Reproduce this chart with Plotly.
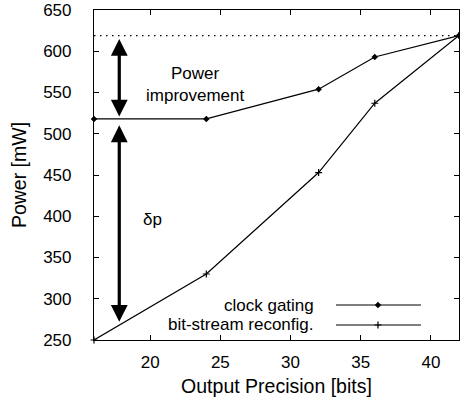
import plotly.graph_objects as go

# Output precision (bits) and measured power (mW)
precision_bits = [16, 24, 32, 36, 42]
clock_gating_mw = [518, 518, 554, 593, 619]
bitstream_reconfig_mw = [250, 330, 453, 537, 619]
series_names = ["clock gating", "bit-stream reconfig."]

# Full-precision power level (dotted reference line)
full_power_mw = 619

# Arrow annotations: x position and (start, end) power values
arrow_x = 17.8
improvement_arrow = (519, 615)
delta_p_arrow = (512, 272)

x_ticks = [20, 25, 30, 35, 40]
y_ticks = [250, 300, 350, 400, 450, 500, 550, 600, 650]

FONT = "Liberation Sans, Arial, Helvetica, sans-serif"

fig = go.Figure()

fig.add_trace(go.Scatter(
    x=[precision_bits[0], precision_bits[-1]], y=[full_power_mw, full_power_mw],
    mode="lines", line=dict(color="black", width=1.2, dash="1.5px,4.5px"),
    showlegend=False, hoverinfo="skip"))

fig.add_trace(go.Scatter(
    x=precision_bits, y=clock_gating_mw, mode="lines+markers",
    name=series_names[0], line=dict(color="black", width=1.2),
    marker=dict(symbol="diamond", size=5, color="black"),
    showlegend=False, cliponaxis=False))

fig.add_trace(go.Scatter(
    x=precision_bits, y=bitstream_reconfig_mw, mode="lines+markers",
    name=series_names[1], line=dict(color="black", width=1.2),
    marker=dict(symbol="cross-thin", size=5, line=dict(color="black", width=1.2)),
    showlegend=False, cliponaxis=False))

# Key samples drawn on an overlay axis spanning the plot area (0..1)
key_rows = [0.106, 0.0455]
key_symbols = [dict(symbol="diamond", size=5, color="black"),
               dict(symbol="cross-thin", size=5, line=dict(color="black", width=1.2))]
for row, sym in zip(key_rows, key_symbols):
    fig.add_trace(go.Scatter(
        x=[0.663, 0.896], y=[row, row], xaxis="x2", yaxis="y2",
        mode="lines", line=dict(color="black", width=1.2),
        showlegend=False, hoverinfo="skip"))
    fig.add_trace(go.Scatter(
        x=[0.778], y=[row], xaxis="x2", yaxis="y2",
        mode="markers", marker=sym, showlegend=False, hoverinfo="skip"))

annotations = []
for name, row in zip(series_names, key_rows):
    annotations.append(dict(
        x=0.608, y=row, xref="paper", yref="paper", text=name,
        showarrow=False, xanchor="right", yanchor="middle",
        font=dict(family=FONT, size=17, color="black")))

for y0, y1 in (improvement_arrow, delta_p_arrow):
    annotations.append(dict(
        x=arrow_x, y=y1, ax=arrow_x, ay=y0, xref="x", yref="y",
        axref="x", ayref="y", text="", showarrow=True,
        arrowhead=2, startarrowhead=2, arrowside="end+start",
        arrowwidth=3.2, arrowsize=1.05, startarrowsize=1.05,
        arrowcolor="black", standoff=0, startstandoff=0))

annotations.append(dict(
    x=23.2, y=560, xref="x", yref="y", text="Power<br>improvement",
    showarrow=False, xanchor="center", yanchor="middle",
    font=dict(family=FONT, size=17, color="black")))
annotations.append(dict(
    x=20.2, y=396, xref="x", yref="y", text="δp",
    showarrow=False, xanchor="center", yanchor="middle",
    font=dict(family=FONT, size=17, color="black")))

axis_common = dict(
    showgrid=False, zeroline=False, showline=True, linecolor="black",
    linewidth=1.2, mirror="ticks", ticks="inside", ticklen=5,
    tickwidth=1, tickcolor="black",
    tickfont=dict(family=FONT, size=17, color="black"))

fig.update_layout(
    width=460, height=402,
    margin=dict(l=94, r=1, t=10, b=62),
    plot_bgcolor="white", paper_bgcolor="white",
    showlegend=False,
    annotations=annotations,
    xaxis=dict(range=[16, 42], tickvals=x_ticks,
               title=dict(text="Output Precision [bits]",
                          font=dict(family=FONT, size=19.5, color="black"),
                          standoff=8),
               ticklabelstandoff=6, **axis_common),
    yaxis=dict(range=[250, 650], tickvals=y_ticks,
               title=dict(text="Power [mW]",
                          font=dict(family=FONT, size=19.5, color="black"),
                          standoff=11),
               ticklabelstandoff=18, **axis_common),
    xaxis2=dict(range=[0, 1], overlaying="x", visible=False),
    yaxis2=dict(range=[0, 1], overlaying="y", visible=False),
)

fig.write_html("out.html")
